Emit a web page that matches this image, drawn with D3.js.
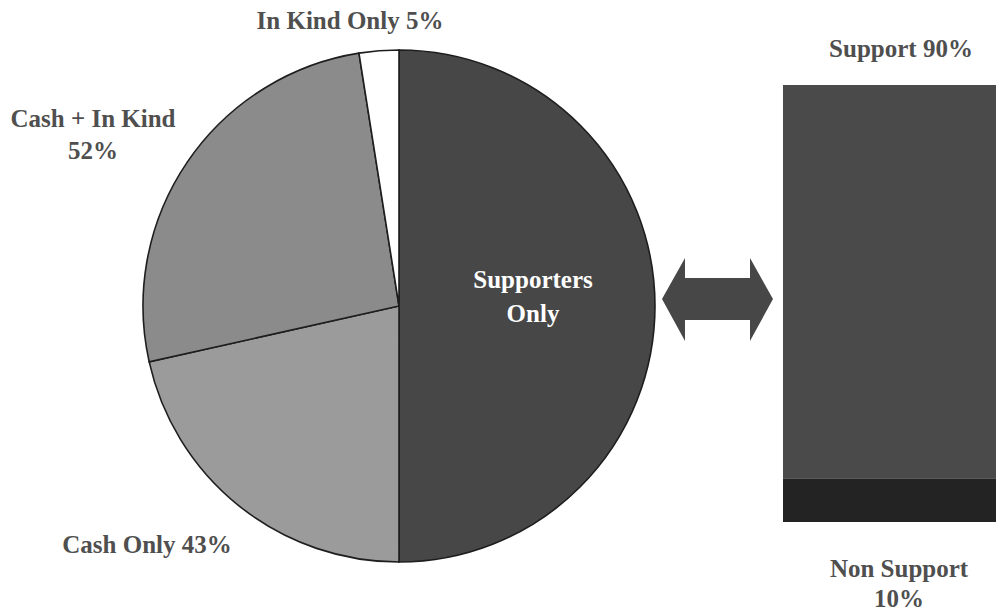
<!DOCTYPE html>
<html><head><meta charset="utf-8">
<script src="https://cdn.jsdelivr.net/npm/d3@7"></script>
<style>body{margin:0;background:#fff}svg{display:block}text{font-family:"Liberation Serif","Times New Roman",serif;font-weight:bold}</style>
</head><body>
<script>
const pieCategories = ["Supporters Only", "Cash Only", "Cash + In Kind", "In Kind Only"];
const pieValues = [100, 43, 52, 5];
const pieColors = ["#474747", "#9b9b9b", "#8b8b8b", "#ffffff"];
const barCategories = ["Support", "Non Support"];
const barValues = [90, 10];
const barColors = ["#4a4a4a", "#232323"];

const W = 996, H = 613;
const svg = d3.select("body").append("svg").attr("width", W).attr("height", H);

const cx = 399, cy = 306, r = 256;
const pie = d3.pie().sort(null).value(d => d)(pieValues);
const arc = d3.arc().innerRadius(0).outerRadius(r);
const g = svg.append("g").attr("transform", `translate(${cx},${cy})`);
g.selectAll("path").data(pie).join("path")
  .attr("d", arc).attr("fill", (d, i) => pieColors[i])
  .attr("stroke", "#1e1e1e").attr("stroke-width", 1.6);

const txt = "#4f4f4f";
const fs = 25;
function label(lines, x, y, color, lh) {
  const t = svg.append("text").attr("text-anchor", "middle").attr("fill", color).attr("font-size", fs);
  lines.forEach((l, i) => t.append("tspan").attr("x", x).attr("y", y + i * lh).text(l));
}
label(["Supporters", "Only"], 533, 288, "#ffffff", 34);
label(["In Kind Only " + pieValues[3] + "%"], 350, 29, txt, 0);
label(["Cash + In Kind", pieValues[2] + "%"], 93, 127, txt, 32);
label(["Cash Only " + pieValues[1] + "%"], 147, 553, txt, 0);

// stacked bar: Non Support at bottom, Support on top
const y = d3.scaleLinear().domain([0, 100]).range([522, 85]);
const order = [1, 0];
let base = 0;
order.forEach(i => {
  const v = barValues[i];
  svg.append("rect").attr("x", 783).attr("width", W - 783)
    .attr("y", y(base + v)).attr("height", y(base) - y(base + v))
    .attr("fill", barColors[i]);
  base += v;
});
label([barCategories[0] + " " + barValues[0] + "%"], 901, 57, txt, 0);
label([barCategories[1], barValues[1] + "%"], 899, 577, txt, 30);

// double arrow
const ay = 299;
const arrow = [[662, ay], [685, 258], [685, 278], [750, 278], [750, 258], [773, ay], [750, 341], [750, 320], [685, 320], [685, 341]];
svg.append("path").attr("d", d3.line()(arrow) + "Z").attr("fill", "#474747");
</script>
</body></html>
